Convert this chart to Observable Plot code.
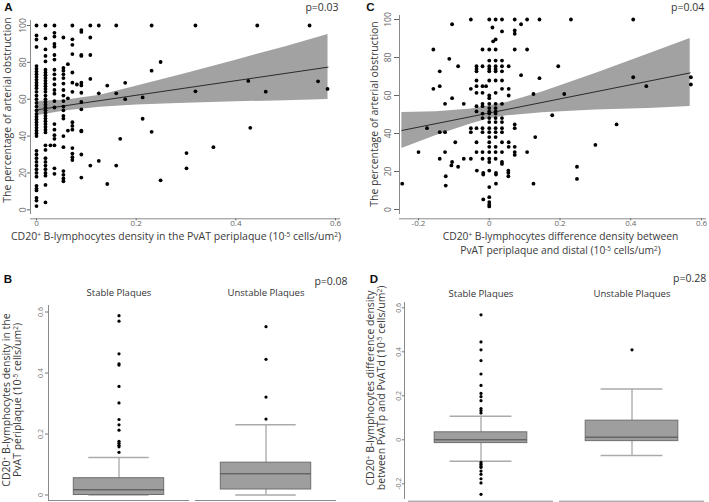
<!DOCTYPE html>
<html><head><meta charset="utf-8">
<script src="https://cdn.jsdelivr.net/npm/d3@7"></script>
<script src="https://cdn.jsdelivr.net/npm/@observablehq/plot@0.6"></script>
<style>
body{margin:0;background:#fff;}
#fig{position:relative;width:709px;height:502px;overflow:hidden;font-family:"Open Sans",sans-serif;color:#3a3a3a;}
#fig svg{position:absolute;}
.c{position:absolute;white-space:nowrap;transform:translate(-50%,-50%);font-size:10.5px;line-height:11px;text-align:center;}
.r{transform:translate(-50%,-50%) rotate(-90deg);}
.s{line-height:9px;}
.t2{line-height:9px;font-size:10.3px;}
.L{font-family:Arial,"Liberation Sans",sans-serif;font-weight:bold;font-size:11.5px;color:#111;}
.p{font-size:10.5px;color:#333;}
sup{font-size:62%;line-height:0;vertical-align:0.45em;}
</style></head>
<body><div id="fig"></div>
<script>
// ---------- Panel A data ----------
const colsA = [
  [0, [100, 94.6, 92.4, 88.4, 78, 76.5, 75, 73.5, 72, 70.5, 69, 67.5, 66, 64, 62, 60, 58, 56, 54, 52, 50.5, 49, 47.5, 46, 44.5, 43, 41.5, 40, 32, 30, 28, 26, 24, 22, 20, 18, 13, 11.5, 10.5, 6.5, 5, 2]],
  [0.018, [100, 93, 87, 83.5, 80.5, 76, 74.5, 73, 71.5, 70, 68.5, 67, 65.5, 64, 62, 60, 58.5, 57, 55.5, 54, 52.5, 51, 49.5, 48, 46.5, 45, 43.5, 42, 35, 32.5, 28, 26, 24, 22, 20, 18.5, 13.5, 4]],
  [0.028, [35]],
  [0.036, [100, 96, 94, 90, 88.5, 84, 81.5, 76, 73.5, 71, 68, 65, 63, 59, 55.5, 46.5, 43.5, 40.5, 38.5, 35, 22.5, 19.5]],
  [0.054, [93.5, 77, 75.5, 73.5, 71.5, 68.5, 65, 62, 59, 56, 54, 51, 49.5, 40, 34, 21, 19, 17, 15.5]],
  [0.063, [79, 60.5, 43]],
  [0.072, [100, 92.5, 89.5, 84.5, 74.5, 69, 64, 47.5, 45.5, 43.5, 33.5, 30.5, 28.5, 27]],
  [0.081, [68]],
  [0.09, [97.5, 96.5, 84, 83.5, 69, 67.5, 63.5, 58.5, 54.5, 43, 42.5, 30, 17.5]],
  [0.108, [100, 93.5, 84, 71, 24]],
  [0.125, [100, 63.2, 26.5]],
  [0.142, [67.4, 14]],
  [0.16, [100, 63.2, 24]],
  [0.168, [38.5]],
  [0.178, [68.9, 60]],
  [0.213, [61, 49.4]],
  [0.231, [100, 75.5, 42.3]],
  [0.249, [80.2, 16]],
  [0.301, [30.8, 22.5]],
  [0.319, [100, 64.3]],
  [0.355, [34]],
  [0.425, [69.9]],
  [0.429, [44.5]],
  [0.443, [100]],
  [0.46, [64.1]],
  [0.548, [100]],
  [0.565, [69.7]],
  [0.584, [65.6]]
];
const fitA_x = [0, 0.585];
const fitA_y = [54.2, 77.4];
const bandA_x = [0, 0.06, 0.128, 0.2, 0.3, 0.4, 0.5, 0.585];
const bandA_lo = [51.0, 53.8, 55.6, 56.8, 57.8, 58.6, 59.2, 59.8];
const bandA_hi = [58.8, 59.6, 62.2, 67.0, 74.0, 81.2, 88.5, 95.1];
const xTicksA = [0, 0.2, 0.4, 0.6];
const yTicks = [0, 20, 40, 60, 80, 100];

// ---------- Panel C data ----------
const rowsC = [
  [100, [-0.052, 0, 0.018, 0.036, 0.072, 0.107, 0.142, 0.231, 0.407]],
  [97.5, [-0.105, 0.09]],
  [95.8, [0.009]],
  [93.7, [0.036]],
  [94.2, [0.072]],
  [92.5, [0.072]],
  [89.5, [0.018]],
  [88.5, [0.011]],
  [84.2, [-0.158, -0.019, 0, 0.018, 0.072, 0.107]],
  [79.3, [-0.113]],
  [78.4, [0, 0.018, 0.036]],
  [75.4, [-0.088, 0.195, -0.036, -0.019, 0, 0.018, 0.036, 0.055]],
  [74, [-0.036, 0, 0.018]],
  [72.7, [-0.14, -0.036, 0, 0.018, 0.036]],
  [70.7, [0.09]],
  [69.1, [0.142]],
  [69.6, [0.407, 0.57]],
  [67.9, [-0.036, 0, 0.018, 0.036]],
  [65.8, [0.57]],
  [64.9, [-0.14, -0.036, -0.019, -0.009, 0.444]],
  [63.5, [-0.158, -0.052, 0.036, 0.055]],
  [61.4, [-0.036, -0.019, 0.018]],
  [60.8, [0.125, 0.212]],
  [60, [0, 0.055]],
  [58.6, [-0.105, 0]],
  [55.6, [-0.125, -0.072, -0.019, 0, 0.018, 0.036]],
  [54.4, [-0.036, -0.019]],
  [53.4, [0, 0.018]],
  [51.6, [-0.036, 0, 0.018]],
  [50.5, [-0.019, 0, 0.018]],
  [49.6, [0.178]],
  [48.1, [-0.019, 0, 0.018, 0.036]],
  [46, [0, 0.018, 0.036]],
  [44.8, [0.072, 0.36]],
  [42.8, [-0.176, -0.052, -0.036, -0.019, 0, 0.018, 0.036, 0.072]],
  [40.7, [-0.14, -0.125, -0.052, -0.019, 0, 0.018, 0.036]],
  [38.1, [0.13, 0, 0.018]],
  [35.4, [-0.096, -0.036, 0, 0.036, 0.055]],
  [34, [0.3]],
  [33, [0, 0.018, 0.055, 0.072]],
  [30.2, [-0.2, -0.125, -0.036, -0.019, 0, 0.018, 0.036, 0.072, 0.107]],
  [28.7, [0.072]],
  [26.7, [-0.14, -0.072, -0.052, -0.019, 0, 0.018]],
  [25, [-0.105, 0, 0.036]],
  [24, [0.036]],
  [23.2, [-0.107]],
  [22.5, [-0.088, 0.248]],
  [20.5, [-0.035, 0, 0.054]],
  [19.3, [-0.017, 0.019, 0.054]],
  [18.4, [-0.017, 0.019]],
  [17.5, [-0.123, 0.054]],
  [16.1, [0.248]],
  [13.6, [-0.246, 0.019, 0.125]],
  [12.6, [-0.123]],
  [11.8, [0]],
  [6.5, [0]],
  [5.3, [-0.017]],
  [3.9, [0]],
  [2.6, [0]],
  [1.6, [0]]
];
const fitC_x = [-0.247, 0.568];
const fitC_y = [41.6, 71.9];
const bandC_x = [-0.247, -0.15, -0.05, 0, 0.05, 0.15, 0.3, 0.45, 0.568];
const bandC_lo = [32.1, 38.9, 45.1, 47.8, 49.3, 50.9, 52.4, 53.2, 54.2];
const bandC_hi = [51.1, 51.5, 52.9, 54.6, 56.3, 61.9, 71.6, 81.8, 90.0];
const xTicksC = [-0.2, 0, 0.2, 0.4, 0.6];

// ---------- Panels B and D data ----------
const groups = ["Stable Plaques", "Unstable Plaques"];
const boxB_q1 = [0, 0.018];
const boxB_med = [0.017, 0.0695];
const boxB_q3 = [0.055, 0.106];
const boxB_lo = [0, 0];
const boxB_hi = [0.123, 0.23];
const outB_stable = [0.588, 0.570, 0.463, 0.430, 0.426, 0.356, 0.302, 0.2475, 0.23, 0.2125, 0.176, 0.17, 0.163, 0.158, 0.14];
const outB_unstable = [0.552, 0.445, 0.321, 0.249];
const yTicksB = [0, 0.2, 0.4, 0.6];

const boxD_q1 = [-0.015, -0.006];
const boxD_med = [0, 0.012];
const boxD_q3 = [0.034, 0.087];
const boxD_lo = [-0.097, -0.071];
const boxD_hi = [0.107, 0.231];
const outD_stable = [0.568, 0.445, 0.409, 0.36, 0.299, 0.247, 0.211, 0.196, 0.178, 0.142, 0.133, 0.122, -0.103, -0.111, -0.12, -0.126, -0.142, -0.157, -0.177, -0.196, -0.248];
const outD_unstable = [0.409];
const yTicksD = [-0.2, 0, 0.2, 0.4, 0.6];

// ---------- build tables ----------
const pointsA = colsA.flatMap(([x, ys]) => ys.map(y => ({x, y})));
const bandA = bandA_x.map((x, i) => ({x, lo: bandA_lo[i], hi: bandA_hi[i]}));
const fitA = fitA_x.map((x, i) => ({x, y: fitA_y[i]}));
const pointsC = rowsC.flatMap(([y, xs]) => xs.map(x => ({x, y})));
const bandC = bandC_x.map((x, i) => ({x, lo: bandC_lo[i], hi: bandC_hi[i]}));
const fitC = fitC_x.map((x, i) => ({x, y: fitC_y[i]}));
const statsB = groups.map((g, i) => ({g, q1: boxB_q1[i], med: boxB_med[i], q3: boxB_q3[i], lo: boxB_lo[i], hi: boxB_hi[i]}));
const outB = [...outB_stable.map(v => ({g: groups[0], v})), ...outB_unstable.map(v => ({g: groups[1], v}))];
const statsD = groups.map((g, i) => ({g, q1: boxD_q1[i], med: boxD_med[i], q3: boxD_q3[i], lo: boxD_lo[i], hi: boxD_hi[i]}));
const outD = [...outD_stable.map(v => ({g: groups[0], v})), ...outD_unstable.map(v => ({g: groups[1], v}))];

const fmt = d => String(d);
const AX = "#8a8a8a";
const BAND = "#a2a2a2";
const baseStyle = {fontFamily: "'Open Sans', sans-serif", background: "transparent", color: "#555", overflow: "visible"};

function scatter({pts, band, fit, xDomain, xTicks, width, height, mt, mb, ml, mr, xin, yin, ruleDy, ytick}) {
  return Plot.plot({
    width, height, marginTop: mt, marginBottom: mb, marginLeft: ml, marginRight: mr,
    style: {...baseStyle, fontSize: "8.5px"},
    x: {domain: xDomain, insetLeft: xin[0], insetRight: xin[1]},
    y: {domain: [0, 100], insetTop: yin[0], insetBottom: yin[1]},
    marks: [
      Plot.areaY(band, {x: "x", y1: "lo", y2: "hi", fill: BAND}),
      Plot.line(fit, {x: "x", y: "y", stroke: "#2a2a2a", strokeWidth: 1}),
      Plot.dot(pts, {x: "x", y: "y", r: 1.9, fill: "#000", stroke: "none"}),
      Plot.frame({anchor: "left", stroke: AX}),
      Plot.ruleY([0], {dy: ruleDy, stroke: AX}),
      Plot.axisY(yTicks, {tickRotate: -90, tickSize: ytick[0], tickPadding: ytick[1], tickFormat: fmt, label: null, color: "#666"}),
      Plot.axisX(xTicks, {dy: ruleDy - (yin[1]), tickSize: 2, tickPadding: 0, tickFormat: fmt, label: null, color: "#666", fontSize: 8})
    ]
  });
}

function boxes({stats, out, yDomain, yTicksX, width, height, mt, mb, ml, mr, xin, yin, pad, boxIn, capIn, segDy, topPad, ytick}) {
  return Plot.plot({
    width, height, marginTop: mt, marginBottom: mb, marginLeft: ml, marginRight: mr,
    style: {...baseStyle, fontSize: "7px"},
    x: {type: "band", domain: groups, paddingInner: pad, paddingOuter: 0, insetLeft: xin[0], insetRight: xin[1]},
    y: {domain: yDomain, insetTop: yin[0], insetBottom: yin[1]},
    marks: [
      Plot.ruleX(stats, {x: "g", y1: "q3", y2: "hi", stroke: "#8c8c8c"}),
      Plot.ruleX(stats, {x: "g", y1: "lo", y2: "q1", stroke: "#8c8c8c"}),
      Plot.tickY(stats, {x: "g", y: "hi", stroke: "#aaa", strokeWidth: 1.5, insetLeft: capIn, insetRight: capIn}),
      Plot.tickY(stats, {x: "g", y: "lo", stroke: "#aaa", strokeWidth: 1.5, insetLeft: capIn, insetRight: capIn}),
      Plot.barY(stats, {x: "g", y1: "q1", y2: "q3", fill: "#9e9e9e", stroke: "#6e6e6e", insetLeft: boxIn, insetRight: boxIn}),
      Plot.tickY(stats, {x: "g", y: "med", stroke: "#4a4a4a", insetLeft: boxIn, insetRight: boxIn}),
      Plot.dot(out, {x: "g", y: "v", r: 1.6, fill: "#000", stroke: "none"}),
      Plot.frame({anchor: "left", stroke: AX}),
      Plot.tickY(groups, {x: d => d, y: () => yDomain[0], dy: segDy, stroke: AX}),
      Plot.axisY(yTicksX, {tickRotate: -90, tickSize: ytick[0], tickPadding: ytick[1], tickFormat: fmt, label: null, color: "#777"}),
      Plot.axisX({anchor: "top", tickSize: 0, tickPadding: topPad, label: null, fontSize: 9.5, color: "#333"})
    ]
  });
}

const fig = document.getElementById("fig");
function place(svg, left, top) { svg.style.left = left + "px"; svg.style.top = top + "px"; fig.appendChild(svg); }

place(scatter({pts: pointsA, band: bandA, fit: fitA, xDomain: [0, 0.6], xTicks: xTicksA,
  width: 354, height: 260, mt: 20, mb: 47, ml: 30, mr: 14, xin: [6, 5], yin: [5, 3.7], ruleDy: 9, ytick: [3, 2]}), 0, 0);

place(scatter({pts: pointsC, band: bandC, fit: fitC, xDomain: [-0.2, 0.6], xTicks: xTicksC,
  width: 355, height: 260, mt: 15, mb: 47, ml: 45, mr: 3, xin: [19, 5], yin: [4, 4], ruleDy: 9.3, ytick: [5, 4]}), 354, 0);

place(boxes({stats: statsB, out: outB, yDomain: [0, 0.6], yTicksX: yTicksB,
  width: 354, height: 252, mt: 55, mb: 3, ml: 48, mr: 17, xin: [0, 0], yin: [6.5, 4.5], pad: 0.0407,
  boxIn: 25.3, capIn: 40.3, segDy: 5.5, topPad: 9.5, ytick: [3, 3]}), 0, 250);

place(boxes({stats: statsD, out: outD, yDomain: [-0.2, 0.6], yTicksX: yTicksD,
  width: 355, height: 252, mt: 52, mb: 4, ml: 50, mr: 4.7, xin: [3.7, 0], yin: [5.3, 14.7], pad: 0.0413,
  boxIn: 26.2, capIn: 41.6, segDy: 17.4, topPad: 5.5, ytick: [2, 2]}), 354, 250);

// ---------- text ----------
const texts = [
  ["L", 8.5, 7, "A"], ["p", 322, 7, "p=0.03"],
  ["L", 370.5, 7, "C"], ["p", 687.7, 7, "p=0.04"],
  ["L", 8, 278.5, "B"], ["p", 331, 280.5, "p=0.08"],
  ["L", 374, 278.5, "D"], ["p", 689.7, 278, "p=0.28"],
  ["r", 7, 110, "The percentage of arterial obstruction"],
  ["s", 176, 235.8, "CD20<sup>+</sup> B-lymphocytes density in the PvAT periplaque (10<sup>-5</sup> cells/um<sup>2</sup>)"],
  ["r", 374, 114, "The percentage of arterial obstruction"],
  ["t2", 560.5, 235.5, "CD20<sup>+</sup> B-lymphocytes difference density between"],
  ["t2", 560.5, 249.6, "PvAT periplaque and distal (10<sup>-5</sup> cells/um<sup>2</sup>)"],
  ["r", 12, 400, "CD20<sup>+</sup> B-lymphocytes density in the<br>PvAT periplaque (10<sup>-5</sup> cells/um<sup>2</sup>)"],
  ["r", 376, 388, "CD20<sup>+</sup> B-lymphocytes difference density<br>between PvATp and PvATd (10<sup>-5</sup> cells/um<sup>2</sup>)"]
];
for (const [cls, x, y, html] of texts) {
  const d = document.createElement("div");
  d.className = "c " + cls;
  d.style.left = x + "px"; d.style.top = y + "px";
  d.innerHTML = html;
  fig.appendChild(d);
}
</script>
</body></html>
